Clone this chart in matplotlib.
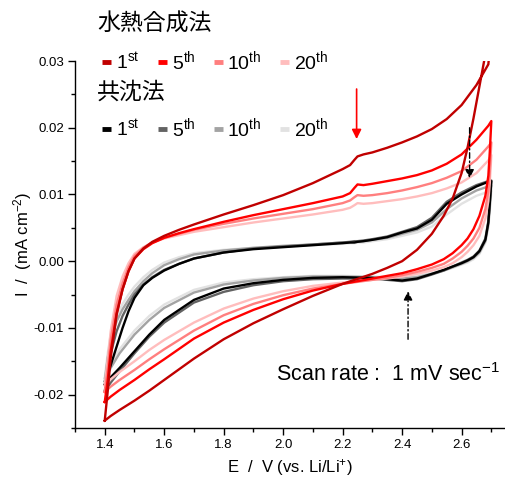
import numpy as np
import matplotlib
matplotlib.use("Agg")
import matplotlib.pyplot as plt
from matplotlib.lines import Line2D
from matplotlib.ticker import MultipleLocator, FormatStrFormatter

plt.rcParams['font.family'] = ['Liberation Sans', 'Noto Sans CJK JP', 'DejaVu Sans']
plt.rcParams['mathtext.fontset'] = 'custom'
plt.rcParams['mathtext.rm'] = 'Liberation Sans'
plt.rcParams['mathtext.it'] = 'Liberation Sans:italic'
plt.rcParams['mathtext.bf'] = 'Liberation Sans:bold'
plt.rcParams['axes.unicode_minus'] = False

# ---------------- data ----------------
# forward (anodic) sweep potentials, V
E_fwd = [1.40, 1.41, 1.42, 1.44, 1.46, 1.48, 1.50, 1.53, 1.56, 1.60, 1.65, 1.70,
         1.80, 1.90, 2.00, 2.10, 2.20, 2.225, 2.24, 2.25, 2.27, 2.30, 2.35, 2.40,
         2.45, 2.50, 2.55, 2.60, 2.65, 2.69, 2.70]
# reverse (cathodic) sweep potentials, V
E_rev = [2.70, 2.695, 2.69, 2.68, 2.66, 2.64, 2.62, 2.60, 2.57, 2.54, 2.50, 2.45,
         2.40, 2.35, 2.30, 2.20, 2.10, 2.00, 1.90, 1.80, 1.70, 1.60, 1.55, 1.50,
         1.45, 1.42, 1.40]

cycle_labels = ['1st', '5th', '10th', '20th']

# hydrothermal synthesis (水熱合成法), current in mA cm-2
hydro_fwd = [
    [-0.0239, -0.0195, -0.0145, -0.0080, -0.0042, -0.0015, 0.0004, 0.0019, 0.0029, 0.0038, 0.0047, 0.0055,
     0.0070, 0.0084, 0.0099, 0.0117, 0.0138, 0.0144, 0.0152, 0.0157, 0.0160, 0.0163, 0.0170, 0.0178,
     0.0187, 0.0198, 0.0213, 0.0234, 0.0264, 0.0295, 0.0345],
    [-0.0211, -0.0178, -0.0135, -0.0078, -0.0042, -0.0015, 0.0004, 0.0018, 0.0027, 0.0035, 0.0042, 0.0048,
     0.0059, 0.0069, 0.0078, 0.0087, 0.0097, 0.0102, 0.0110, 0.0115, 0.0114, 0.0116, 0.0120, 0.0124,
     0.0129, 0.0136, 0.0146, 0.0160, 0.0182, 0.0203, 0.0210],
    [-0.0196, -0.0160, -0.0118, -0.0065, -0.0033, -0.0009, 0.0008, 0.0020, 0.0028, 0.0035, 0.0041, 0.0047,
     0.0056, 0.0064, 0.0071, 0.0078, 0.0087, 0.0091, 0.0096, 0.0099, 0.0098, 0.0099, 0.0102, 0.0106,
     0.0111, 0.0117, 0.0125, 0.0135, 0.0152, 0.0172, 0.0178],
    [-0.0186, -0.0148, -0.0105, -0.0052, -0.0023, -0.0003, 0.0011, 0.0021, 0.0028, 0.0034, 0.0039, 0.0044,
     0.0051, 0.0058, 0.0064, 0.0070, 0.0077, 0.0080, 0.0084, 0.0087, 0.0086, 0.0087, 0.0090, 0.0093,
     0.0097, 0.0102, 0.0109, 0.0118, 0.0132, 0.0151, 0.0159],
]
hydro_rev = [
    [0.0345, 0.0335, 0.0326, 0.0310, 0.0262, 0.0214, 0.0170, 0.0132, 0.0094, 0.0068, 0.0041, 0.0017,
     0.0000, -0.0010, -0.0019, -0.0034, -0.0052, -0.0072, -0.0093, -0.0117, -0.0146, -0.0178, -0.0194, -0.0209,
     -0.0223, -0.0232, -0.0239],
    [0.0210, 0.0165, 0.0128, 0.0098, 0.0068, 0.0048, 0.0034, 0.0024, 0.0012, 0.0003, -0.0005, -0.0012,
     -0.0018, -0.0022, -0.0026, -0.0034, -0.0044, -0.0057, -0.0073, -0.0092, -0.0116, -0.0147, -0.0162, -0.0178,
     -0.0193, -0.0203, -0.0211],
    [0.0178, 0.0135, 0.0105, 0.0078, 0.0050, 0.0034, 0.0023, 0.0014, 0.0004, -0.0004, -0.0010, -0.0016,
     -0.0021, -0.0025, -0.0028, -0.0034, -0.0041, -0.0051, -0.0064, -0.0081, -0.0104, -0.0132, -0.0147, -0.0163,
     -0.0178, -0.0188, -0.0196],
    [0.0159, 0.0118, 0.0090, 0.0064, 0.0038, 0.0024, 0.0014, 0.0006, -0.0003, -0.0009, -0.0014, -0.0019,
     -0.0023, -0.0026, -0.0028, -0.0032, -0.0037, -0.0045, -0.0056, -0.0071, -0.0092, -0.0118, -0.0133, -0.0150,
     -0.0166, -0.0177, -0.0186],
]

# co-precipitation (共沈法), current in mA cm-2
copre_fwd = [
    [-0.0185, -0.0170, -0.0156, -0.0128, -0.0100, -0.0075, -0.0055, -0.0036, -0.0025, -0.0014, -0.0004, 0.0004,
     0.0013, 0.0018, 0.0021, 0.0024, 0.0027, 0.0028, 0.0028, 0.0029, 0.0030, 0.0032, 0.0036, 0.0043,
     0.0049, 0.0062, 0.0086, 0.0100, 0.0112, 0.0119, 0.0120],
    [-0.0195, -0.0165, -0.0138, -0.0105, -0.0082, -0.0065, -0.0050, -0.0035, -0.0024, -0.0013, -0.0004, 0.0004,
     0.0013, 0.0019, 0.0022, 0.0025, 0.0028, 0.0029, 0.0030, 0.0030, 0.0031, 0.0033, 0.0037, 0.0044,
     0.0051, 0.0065, 0.0089, 0.0103, 0.0114, 0.0120, 0.0121],
    [-0.0180, -0.0145, -0.0118, -0.0090, -0.0072, -0.0058, -0.0045, -0.0030, -0.0018, -0.0006, 0.0003, 0.0010,
     0.0016, 0.0020, 0.0023, 0.0025, 0.0028, 0.0028, 0.0029, 0.0029, 0.0030, 0.0032, 0.0035, 0.0041,
     0.0047, 0.0058, 0.0078, 0.0094, 0.0106, 0.0112, 0.0113],
    [-0.0175, -0.0138, -0.0110, -0.0082, -0.0064, -0.0050, -0.0038, -0.0024, -0.0013, -0.0002, 0.0006, 0.0012,
     0.0017, 0.0020, 0.0022, 0.0024, 0.0026, 0.0027, 0.0027, 0.0028, 0.0028, 0.0030, 0.0033, 0.0038,
     0.0043, 0.0052, 0.0070, 0.0086, 0.0098, 0.0104, 0.0105],
]
copre_rev = [
    [0.0120, 0.0088, 0.0058, 0.0032, 0.0015, 0.0006, 0.0001, -0.0003, -0.0008, -0.0013, -0.0019, -0.0026,
     -0.0029, -0.0027, -0.0025, -0.0024, -0.0025, -0.0028, -0.0033, -0.0041, -0.0058, -0.0088, -0.0110, -0.0135,
     -0.0160, -0.0174, -0.0185],
    [0.0121, 0.0090, 0.0060, 0.0034, 0.0016, 0.0007, 0.0002, -0.0002, -0.0008, -0.0014, -0.0020, -0.0027,
     -0.0030, -0.0028, -0.0026, -0.0026, -0.0027, -0.0030, -0.0036, -0.0046, -0.0062, -0.0092, -0.0113, -0.0138,
     -0.0165, -0.0182, -0.0195],
    [0.0113, 0.0082, 0.0055, 0.0030, 0.0013, 0.0005, 0.0000, -0.0004, -0.0009, -0.0014, -0.0019, -0.0024,
     -0.0026, -0.0025, -0.0024, -0.0023, -0.0023, -0.0025, -0.0029, -0.0035, -0.0047, -0.0070, -0.0088, -0.0110,
     -0.0138, -0.0160, -0.0180],
    [0.0105, 0.0076, 0.0051, 0.0028, 0.0011, 0.0003, -0.0002, -0.0005, -0.0010, -0.0014, -0.0018, -0.0022,
     -0.0024, -0.0024, -0.0023, -0.0022, -0.0022, -0.0024, -0.0027, -0.0032, -0.0043, -0.0065, -0.0082, -0.0104,
     -0.0132, -0.0153, -0.0175],
]

hydro_colors = ['#c00000', '#ff0000', '#ff7f7f', '#ffbdbd']
copre_colors = ['#000000', '#636363', '#a3a3a3', '#e2e2e2']

# annotation arrows: (x, y_tail, y_head)
red_arrow = (2.247, 0.0258, 0.0183)
black_arrow_top = (2.627, 0.0200, 0.0124)
black_arrow_bottom = (2.420, -0.0117, -0.0045)

# ---------------- figure ----------------
W, H = 505, 484
fig = plt.figure(figsize=(W / 100, H / 100), dpi=100)
ax = fig.add_axes([75 / W, 1 - 428 / H, 1 - 75 / W, (428 - 61) / H])

for fwd, rev, c in zip(copre_fwd[::-1], copre_rev[::-1], copre_colors[::-1]):
    ax.plot(E_fwd + E_rev, fwd + rev, color=c, lw=1.7, solid_joinstyle='round')
for fwd, rev, c in zip(hydro_fwd[::-1], hydro_rev[::-1], hydro_colors[::-1]):
    ax.plot(E_fwd + E_rev, fwd + rev, color=c, lw=1.7, solid_joinstyle='round')

ax.set_xlim(1.3, 2.746)
ax.set_ylim(-0.025, 0.030)

for s in ['top', 'right']:
    ax.spines[s].set_visible(False)
ax.spines['left'].set_linewidth(1.0)
ax.spines['bottom'].set_linewidth(1.0)

ax.xaxis.set_major_locator(MultipleLocator(0.2))
ax.xaxis.set_minor_locator(MultipleLocator(0.1))
ax.yaxis.set_major_locator(MultipleLocator(0.01))
ax.yaxis.set_minor_locator(MultipleLocator(0.005))
ax.xaxis.set_major_formatter(FormatStrFormatter('%.1f'))
ax.yaxis.set_major_formatter(FormatStrFormatter('%.2f'))
ax.tick_params(which='major', direction='out', length=5, width=1.0, labelsize=9.5, pad=3)
ax.tick_params(which='minor', direction='out', length=3, width=1.0)

ax.set_xlabel('E  /  V (vs. Li/Li$^{+}$)', fontsize=12, labelpad=4)
ax.set_ylabel('I  /  (mA cm$^{-2}$)', fontsize=12, labelpad=0)

# arrows
ax.annotate('', xy=(red_arrow[0], red_arrow[2]), xytext=(red_arrow[0], red_arrow[1]),
            arrowprops=dict(arrowstyle='-|>', color='#ff0000', lw=1.2, mutation_scale=14,
                            shrinkA=0, shrinkB=0))
for ar in (black_arrow_top, black_arrow_bottom):
    ax.annotate('', xy=(ar[0], ar[2]), xytext=(ar[0], ar[1]),
                arrowprops=dict(arrowstyle='-|>', color='black', lw=1.0, mutation_scale=13,
                                linestyle=(0, (4, 2, 1, 2)), shrinkA=0, shrinkB=0))

ax.text(276 / W, 1 - 375 / H, 'Scan rate :  1 mV sec$^{-1}$', transform=fig.transFigure,
        fontsize=15.5, ha='left', va='center', clip_on=False)

# legends
def make_handles(colors):
    return [Line2D([], [], color=c, lw=3.5, solid_capstyle='butt') for c in colors]

labels = [l[:-2] + '$^{\\mathrm{' + l[-2:] + '}}$' for l in cycle_labels]
leg_kw = dict(loc='center left', bbox_transform=fig.transFigure, frameon=False, ncol=4,
              fontsize=14, handlelength=0.46, handletextpad=0.25, columnspacing=0.95,
              borderpad=0, borderaxespad=0)
leg1 = ax.legend(make_handles(hydro_colors), labels, bbox_to_anchor=(102 / W, 1 - 61 / H), **leg_kw)
ax.add_artist(leg1)
leg2 = ax.legend(make_handles(copre_colors), labels, bbox_to_anchor=(102 / W, 1 - 128 / H), **leg_kw)

fig.text(97 / W, 1 - 24 / H, '水熱合成法', fontsize=16.5, ha='left', va='center',
         family=['Noto Sans CJK JP'])
fig.text(97 / W, 1 - 92 / H, '共沈法', fontsize=16.5, ha='left', va='center',
         family=['Noto Sans CJK JP'])

fig.savefig('out.png', dpi=100)
